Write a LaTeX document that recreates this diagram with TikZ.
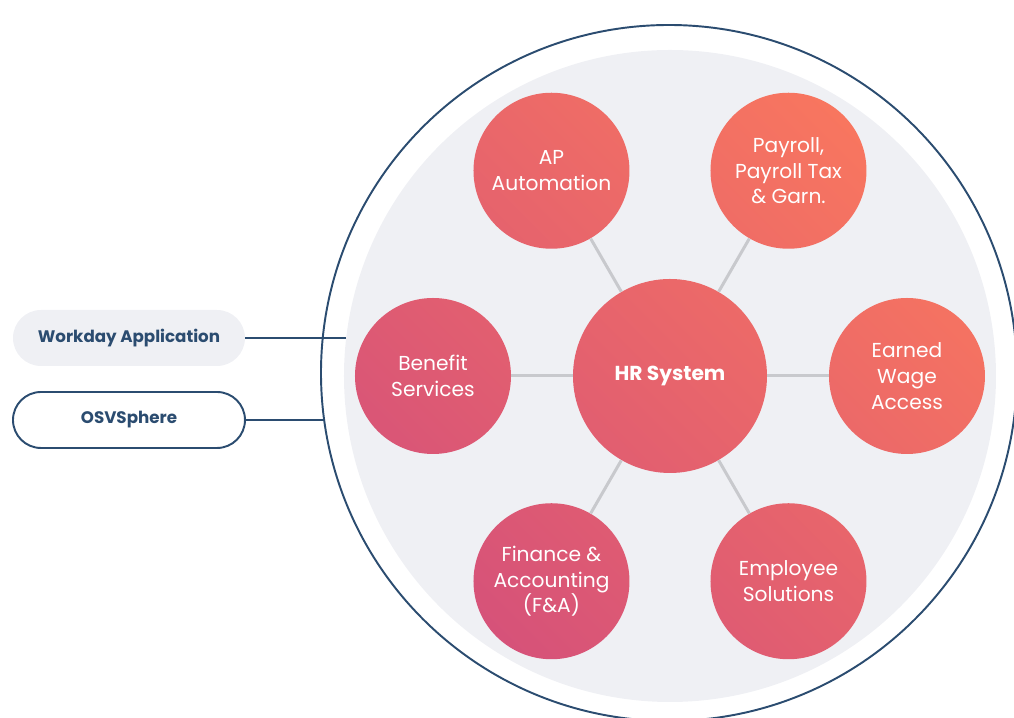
\documentclass[tikz,border=0pt]{standalone}
\usepackage{fontspec}
\setmainfont{Poppins}
\definecolor{navy}{HTML}{2B4C70}
\definecolor{mist}{HTML}{EFF0F4}
\definecolor{spoke}{HTML}{C8C9CD}
\definecolor{coral}{HTML}{F8765F}
\definecolor{rose}{HTML}{D65279}
\tikzset{
  bubble/.style 2 args={circle, minimum size=3.12cm, inner sep=0pt, text=white, align=center,
    font=\fontsize{11.5}{14.7}\selectfont,
    top color=coral!#1!rose, bottom color=coral!#2!rose, shading angle=-45},
  spokeline/.style={spoke, line width=1.7pt},
  pill/.style={rectangle, rounded corners=0.56cm, minimum width=4.64cm, minimum height=1.12cm,
    text=navy, font=\fontsize{9.5}{11}\selectfont\bfseries},
}
\begin{document}
\begin{tikzpicture}
  \useasboundingbox (-13.4,-6.84) rectangle (6.88,7.52);

  % === Outer ring and inner disk ===
  \node (rim) [circle, draw=navy, line width=1.1pt, minimum size=13.92cm, inner sep=0pt] at (-0.02,0.06) {};
  \node (disk) [circle, fill=mist, minimum size=13.04cm, inner sep=0pt] at (0,0) {};

  % === Hub and satellites ===
  \node (hr) [bubble={66}{34}, minimum size=3.88cm, font=\fontsize{11.5}{14.7}\selectfont\bfseries] at (0,0) {HR System};
  \node (payroll) [bubble={100}{75}] at (60:4.74) {Payroll,\\Payroll Tax\\\& Garn.};
  \node (ap) [bubble={73}{47}] at (120:4.74) {AP\\Automation};
  \node (benefit) [bubble={35}{10}] at (180:4.74) {Benefit\\Services};
  \node (finance) [bubble={25}{0}] at (240:4.74) {Finance \&\\Accounting\\(F\&A)};
  \node (employee) [bubble={53}{27}] at (300:4.74) {Employee\\Solutions};
  \node (earned) [bubble={90}{64}] at (0:4.74) {Earned\\Wage\\Access};

  % Spokes
  \foreach \s in {payroll,ap,benefit,finance,employee,earned}
    \draw[spokeline] (hr) -- (\s);

  % === Source systems (left) ===
  \node (workday) [pill, fill=mist] at (-10.82,0.76) {Workday Application};
  \node (osv) [pill, draw=navy, line width=1.1pt, fill=white] at (-10.82,-0.88) {OSVSphere};

  \coordinate (workdayend) at (-6.48,0.76);
  \coordinate (osvend) at (-6.92,-0.88);
  \draw[navy, line width=1.1pt] (workday) -- (workdayend);
  \draw[navy, line width=1.1pt] (osv) -- (osvend);
\end{tikzpicture}
\end{document}
